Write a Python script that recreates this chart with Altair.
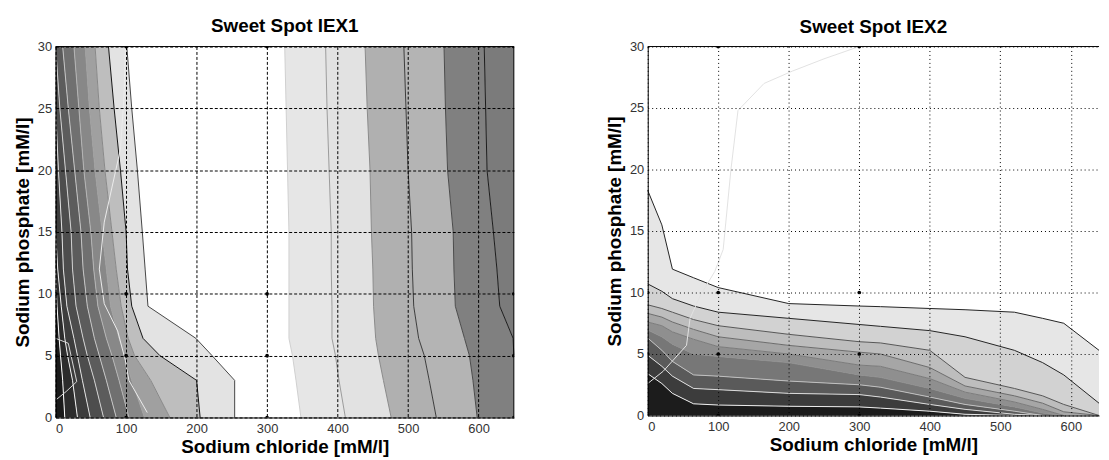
import altair as alt
import pandas as pd

TITLES = ["Sweet Spot IEX1", "Sweet Spot IEX2"]
X_TITLE = "Sodium chloride [mM/l]"
Y_TITLE = "Sodium phosphate [mM/l]"
X_TICKS = [0, 100, 200, 300, 400, 500, 600]
Y_TICKS = [0, 5, 10, 15, 20, 25, 30]

DESIGN_NACL = [0, 100, 300, 650]
DESIGN_PHOS = [0, 5, 10, 30]

# ---------- Panel 1 (IEX1): contour boundaries x(y) ----------
P1_Y = [0, 3, 5, 6.4, 9, 12, 15, 20, 25, 30]
P1_L1 = [13, 10, 7, 5, 2, 0, 0, 0, 0, 0]
P1_L2 = [31, 24, 17, 13, 8, 3, 0, 0, 0, 0]
P1_L3 = [49, 38, 31, 26, 16, 11, 9, 4, 0, 0]
P1_L4 = [68, 55, 45, 39, 29, 24, 22, 14, 6, 0]
P1_L5 = [86, 72, 62, 55, 45, 39, 36, 27, 18, 10]
P1_L6 = [104, 90, 80, 72, 60, 54, 50, 40, 33, 26]
P1_L7 = [126, 108, 98, 90, 78, 72, 66, 56, 48, 42]
P1_L8 = [162, 135, 112, 103, 93, 86, 80, 70, 62, 56]
P1_B = [205, 200, 148, 124, 108, 102, 100, 92, 83, 75]
P1_A = [254, 254, 222, 199, 131, 127, 123, 116, 108, 101]
P1_R1 = [348, 341, 336, 331, 331, 331, 331, 329, 327, 325]
P1_R2 = [411, 402, 397, 392, 392, 391, 391, 388, 385, 383]
P1_R3 = [476, 465, 458, 454, 451, 450, 448, 446, 442, 439]
P1_R4 = [540, 530, 523, 515, 508, 506, 505, 500, 497, 494]
P1_R5 = [598, 592, 587, 580, 567, 565, 564, 556, 553, 551]
P1_R6 = [650, 650, 650, 649, 630, 626, 621, 612, 610, 608]
P1_LEFT = [0] * 10
P1_RIGHT = [650] * 10

P1_BAND_COLORS = ["#1a1a1a", "#2c2c2c", "#3d3d3d", "#4d4d4d", "#5c5c5c", "#707070",
                  "#888888", "#a0a0a0", "#bebebe", "#e3e3e3", "#ffffff", "#e6e6e6",
                  "#e2e2e2", "#b0b0b0", "#b4b4b4", "#808080", "#7b7b7b"]
P1_LINE_COLORS = ["#ffffff", "#f0f0f0", "#e0e0e0", "#d0d0d0", "#c4c4c4", "#b4b4b4",
                  "#a0a0a0", "#888888", "#111111", "#444444", "#cfcfcf", "#9a9a9a",
                  "#8a8a8a", "#3a3a3a", "#4a4a4a", "#1a1a1a"]

P1_OV1_X = [130, 104, 99, 88, 69, 62, 69, 92, 97, 99]
P1_OV1_Y = [0.4, 3, 4.6, 7, 9.2, 12, 15.8, 21.7, 26, 30]
P1_OV2_X = [0, 18, 30, 15, 0]
P1_OV2_Y = [6.4, 6.0, 2.9, 2.1, 1.4]

# ---------- Panel 2 (IEX2): contour boundaries y(x) ----------
P2_X = [0, 20, 35, 65, 100, 200, 300, 330, 400, 450, 520, 560, 590, 640]
P2_T1 = [18.3, 15.5, 11.9, 11.2, 10.4, 9.1, 8.9, 8.85, 8.7, 8.6, 8.4, 7.9, 7.5, 5.3]
P2_T2 = [10.7, 10.1, 9.5, 8.9, 8.4, 7.9, 7.4, 7.25, 6.9, 6.4, 5.3, 4.3, 3.3, 1.0]
P2_T3 = [9.0, 8.7, 8.4, 7.8, 7.3, 6.6, 6.0, 5.9, 5.3, 3.1, 2.2, 1.6, 0.9, 0]
P2_T4 = [8.3, 8.0, 7.6, 7.0, 6.4, 5.7, 5.15, 5.0, 3.9, 2.4, 1.6, 1.0, 0.3, 0]
P2_T5 = [7.6, 7.3, 6.8, 6.2, 5.6, 5.0, 4.1, 4.0, 3.0, 1.9, 1.1, 0.5, 0, 0]
P2_T6 = [6.95, 6.4, 5.8, 5.0, 4.8, 4.3, 3.3, 3.1, 2.2, 1.4, 0.7, 0.2, 0, 0]
P2_T7 = [6.3, 5.3, 4.4, 3.3, 3.2, 2.8, 2.5, 2.3, 1.5, 0.9, 0.35, 0, 0, 0]
P2_T8 = [4.9, 4.0, 3.2, 2.2, 2.1, 1.8, 1.7, 1.5, 0.9, 0.5, 0.1, 0, 0, 0]
P2_T9 = [3.4, 2.6, 1.8, 0.95, 0.85, 0.75, 0.7, 0.6, 0.35, 0.1, 0, 0, 0, 0]
P2_BOTTOM = [0] * 14

P2_BAND_COLORS = ["#e6e6e6", "#d2d2d2", "#bdbdbd", "#a6a6a6", "#8f8f8f", "#777777",
                  "#5a5a5a", "#3c3c3c", "#1c1c1c"]
P2_LINE_COLORS = ["#222222", "#222222", "#555555", "#6a6a6a", "#7a7a7a", "#909090",
                  "#c0c0c0", "#dddddd", "#eeeeee"]

P2_OV_X = [0, 22, 55, 60, 75, 95, 107, 118, 128, 165, 205, 250, 300]
P2_OV_Y = [2.6, 3.6, 5.7, 7.9, 9.8, 11.7, 13.5, 20, 24.8, 27, 28, 29, 30]

FONT = "Liberation Sans"
W1, H1 = 462, 374
W2, H2 = 455, 372


def trim(vals, lo, hi):
    n = len(vals)
    keep = []
    for j in range(n):
        inside = lo < vals[j] < hi
        near = any(lo < vals[k] < hi for k in (j - 1, j + 1) if 0 <= k < n)
        if inside or near:
            keep.append(j)
    return keep


def axes(dash, xmax):
    xa = alt.Axis(values=X_TICKS, grid=True, gridColor="black", gridDash=dash,
                  gridOpacity=1, gridWidth=1, ticks=False, tickSize=0, domain=True,
                  domainColor="black", labelFont=FONT, labelFontSize=13,
                  labelColor="#333333", labelPadding=5, title=X_TITLE, titleFont=FONT,
                  titleFontSize=19, titleFontWeight="bold", titleColor="black",
                  titlePadding=2, zindex=1)
    ya = alt.Axis(values=Y_TICKS, grid=True, gridColor="black", gridDash=dash,
                  gridOpacity=1, gridWidth=1, ticks=False, tickSize=0, domain=True,
                  domainColor="black", labelFont=FONT, labelFontSize=13,
                  labelColor="#333333", labelPadding=4, title=Y_TITLE, titleFont=FONT,
                  titleFontSize=19, titleFontWeight="bold", titleColor="black",
                  titlePadding=5, zindex=1)
    xs = alt.Scale(domain=[0, xmax], nice=False, zero=False)
    ys = alt.Scale(domain=[0, 30], nice=False, zero=False)
    return xa, ya, xs, ys


def design_df():
    return pd.DataFrame([{"x": a, "y": b} for a in DESIGN_NACL for b in DESIGN_PHOS])


# ---------- build panel 1 ----------
p1_bounds = [P1_LEFT, P1_L1, P1_L2, P1_L3, P1_L4, P1_L5, P1_L6, P1_L7, P1_L8, P1_B, P1_A,
             P1_R1, P1_R2, P1_R3, P1_R4, P1_R5, P1_R6, P1_RIGHT]
rows = []
for i in range(len(p1_bounds) - 1):
    for j, yv in enumerate(P1_Y):
        rows.append({"band": i, "y": yv, "x": p1_bounds[i][j], "x2": p1_bounds[i + 1][j],
                     "color": P1_BAND_COLORS[i]})
p1_bands = pd.DataFrame(rows)

rows = []
for k, b in enumerate(p1_bounds[1:-1]):
    for j in trim(b, 0, 650):
        rows.append({"line": k, "o": j, "x": b[j], "y": P1_Y[j], "color": P1_LINE_COLORS[k]})
for j, (xv, yv) in enumerate(zip(P1_OV1_X, P1_OV1_Y)):
    rows.append({"line": 100, "o": j, "x": xv, "y": yv, "color": "#ececec"})
for j, (xv, yv) in enumerate(zip(P1_OV2_X, P1_OV2_Y)):
    rows.append({"line": 101, "o": j, "x": xv, "y": yv, "color": "#d8d8d8"})
p1_lines = pd.DataFrame(rows)

xa, ya, xs, ys = axes([3, 2], 650)
base1 = alt.Chart(p1_bands).mark_area(orient="horizontal").encode(
    y=alt.Y("y:Q", scale=ys, axis=ya),
    x=alt.X("x:Q", scale=xs, axis=xa),
    x2="x2:Q",
    color=alt.Color("color:N", scale=None),
    detail="band:N",
)
lines1 = alt.Chart(p1_lines).mark_line(strokeWidth=1).encode(
    x="x:Q", y="y:Q", color=alt.Color("color:N", scale=None), detail="line:N",
    order="o:Q")
pts1 = alt.Chart(design_df()).mark_point(filled=True, size=14, color="black", opacity=1,
                                         clip=True).encode(x="x:Q", y="y:Q")
border = pd.DataFrame({"k": [0]})
top1 = alt.Chart(border).mark_rule(color="black", strokeWidth=1).encode(
    x=alt.value(0), x2=alt.value(W1), y=alt.value(0))
right1 = alt.Chart(border).mark_rule(color="black", strokeWidth=1).encode(
    x=alt.value(W1), y=alt.value(0), y2=alt.value(H1))

panel1 = alt.layer(base1, lines1, pts1, top1, right1).properties(
    width=W1, height=H1,
    title=alt.Title(TITLES[0], font=FONT, fontSize=19, fontWeight="bold", color="black",
                    frame="group", anchor="middle", offset=5))

# ---------- build panel 2 ----------
p2_bounds = [P2_T1, P2_T2, P2_T3, P2_T4, P2_T5, P2_T6, P2_T7, P2_T8, P2_T9, P2_BOTTOM]
rows = []
for i in range(len(p2_bounds) - 1):
    for j, xv in enumerate(P2_X):
        rows.append({"band": i, "x": xv, "y": p2_bounds[i][j], "y2": p2_bounds[i + 1][j],
                     "color": P2_BAND_COLORS[i]})
p2_bands = pd.DataFrame(rows)

rows = []
for k, b in enumerate(p2_bounds[:-1]):
    for j in trim(b, 0, 30):
        rows.append({"line": k, "o": j, "x": P2_X[j], "y": b[j], "color": P2_LINE_COLORS[k]})
for j, (xv, yv) in enumerate(zip(P2_OV_X, P2_OV_Y)):
    rows.append({"line": 100, "o": j, "x": xv, "y": yv, "color": "#e2e2e2"})
p2_lines = pd.DataFrame(rows)

xa2, ya2, xs2, ys2 = axes([1, 3], 640)
base2 = alt.Chart(p2_bands).mark_area().encode(
    x=alt.X("x:Q", scale=xs2, axis=xa2),
    y=alt.Y("y:Q", scale=ys2, axis=ya2),
    y2="y2:Q",
    color=alt.Color("color:N", scale=None),
    detail="band:N",
)
lines2 = alt.Chart(p2_lines).mark_line(strokeWidth=1).encode(
    x="x:Q", y="y:Q", color=alt.Color("color:N", scale=None), detail="line:N",
    order="o:Q")
pts2 = alt.Chart(design_df()).mark_point(filled=True, size=14, color="black", opacity=1,
                                         clip=True).encode(x="x:Q", y="y:Q")
top2 = alt.Chart(border).mark_rule(color="black", strokeWidth=1).encode(
    x=alt.value(0), x2=alt.value(W2), y=alt.value(0))

panel2 = alt.layer(base2, lines2, pts2, top2).properties(
    width=W2, height=H2,
    title=alt.Title(TITLES[1], font=FONT, fontSize=19, fontWeight="bold", color="black",
                    frame="group", anchor="middle", offset=3.6))

chart = alt.hconcat(panel1, panel2, spacing=90).properties(
    padding={"left": 5, "top": 7, "right": 0, "bottom": 0},
    background="white",
).configure_view(strokeWidth=0)

chart.save("out.html", embed_options={"renderer": "svg", "actions": False})
